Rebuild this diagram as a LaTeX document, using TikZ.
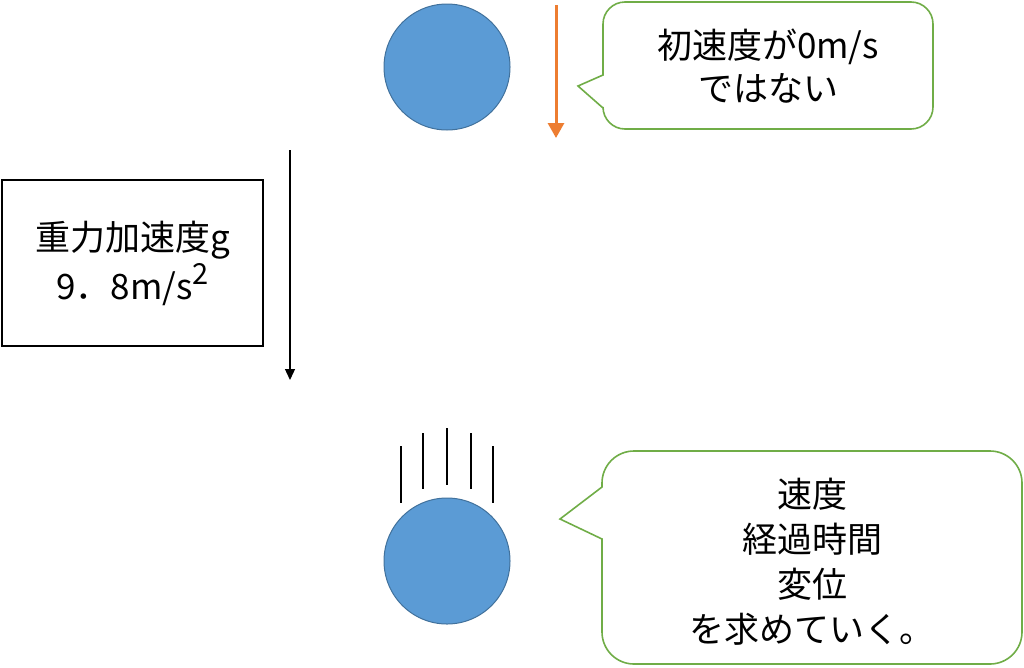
\documentclass[tikz,border=0pt]{standalone}
\usepackage{fontspec}
\newfontfamily\jpfont{Noto Sans CJK JP}
\usetikzlibrary{arrows.meta,positioning}
\definecolor{ballblue}{HTML}{5B9BD5}
\definecolor{ballline}{HTML}{41719C}
\definecolor{arroworange}{HTML}{ED7D31}
\definecolor{notegreen}{HTML}{70AD47}

\begin{document}
\begin{tikzpicture}[x=1pt, y=-1pt,
        ball/.style={circle, fill=ballblue, draw=ballline, line width=1pt, minimum size=126pt, inner sep=0pt},
        notetext/.style={font=\jpfont\fontsize{35}{45}\selectfont, align=center},
        callout/.style={draw=notegreen, line width=1.6pt, fill=white}]
        \useasboundingbox (0, 0) rectangle (1024, 667);

        % balls
        \node[ball] (ballA) at (447, 67) {};
        \node[ball] (ballB) at (447, 561) {};

        % gravity box
        \node[draw, line width=1.3pt, minimum width=261pt, minimum height=166pt,
              notetext, font=\jpfont\fontsize{35}{49}\selectfont] (gbox) at (132.5, 263)
        {重力加速度g\\9．8m/s\raisebox{0.42em}{\fontsize{29}{29}\selectfont 2}};

        % arrows
        \coordinate (vA) at (556, 5);
        \coordinate (vB) at (556, 138);
        \coordinate (gA) at (290, 150);
        \coordinate (gB) at (290, 380);
        \draw[arroworange, line width=3pt, -{Triangle[width=16pt, length=15pt]}] (vA) -- (vB);
        \draw[line width=1.3pt, -{Triangle[width=10pt, length=11pt]}] (gA) -- (gB);

        % motion lines
        \begin{scope}[line width=2.8pt]
            \draw (401, 446) -- (401, 503);
            \draw (423, 433) -- (423, 489);
            \draw (447, 428) -- (447, 485);
            \draw (471, 433) -- (471, 489);
            \draw (493, 446) -- (493, 503);
        \end{scope}

        % callouts
        \draw[callout] (603, 75) [rounded corners=22pt] -- (603, 2) -- (933, 2)
            -- (933, 129) -- (603, 129) [sharp corners] -- (603, 108) -- (578, 86) -- cycle;
        \node[notetext, font=\jpfont\fontsize{35}{43}\selectfont] (noteA) at (768, 66) {初速度が0m/s\\ではない};

        \draw[callout] (602, 487) [rounded corners=32pt] -- (602, 451) -- (1022, 451)
            -- (1022, 664) -- (602, 664) [sharp corners] -- (602, 539) -- (560, 519) -- cycle;
        \node[notetext] (noteB) at (812, 562) {速度\\経過時間\\変位\\を求めていく。};
\end{tikzpicture}
\end{document}
